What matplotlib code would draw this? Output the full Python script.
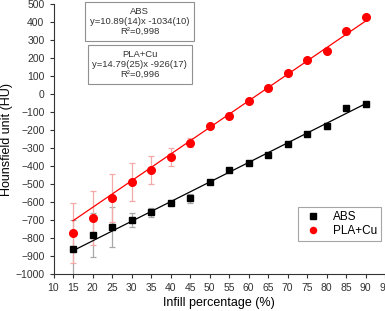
import numpy as np
import matplotlib.pyplot as plt

plt.rcParams['font.family'] = ['Liberation Sans', 'DejaVu Sans']

infill = [15, 20, 25, 30, 35, 40, 45, 50, 55, 60, 65, 70, 75, 80, 85, 90]

abs_hu = [-861, -783, -739, -700, -656, -605, -578, -489, -422, -384, -338, -278, -222, -177, -78, -56]
abs_err = [160, 120, 112, 40, 25, 8, 25, 10, 10, 10, 10, 10, 10, 15, 8, 8]

pla_hu = [-772, -689, -578, -489, -422, -350, -270, -178, -122, -39, 33, 117, 189, 239, 350, 428]
pla_err = [167, 150, 133, 103, 80, 50, 25, 10, 10, 10, 10, 10, 10, 12, 10, 12]

# linear fits reported in the boxes
abs_fit = (10.89, -1034)
pla_fit = (14.79, -926)

fig = plt.figure(figsize=(3.85, 3.11), dpi=100)
ax = fig.add_axes([0.139, 0.119, 0.861, 0.868])

xfit = np.array([15, 90])
ax.plot(xfit, abs_fit[0] * xfit + abs_fit[1], color='black', lw=0.9, zorder=2)
ax.plot(xfit, pla_fit[0] * xfit + pla_fit[1], color='red', lw=0.9, zorder=2)

ax.errorbar(infill, abs_hu, yerr=abs_err, fmt='none', ecolor='#a8a8a8',
            elinewidth=0.9, capsize=2.5, capthick=0.9, zorder=1)
ax.errorbar(infill, pla_hu, yerr=pla_err, fmt='none', ecolor='#f4a8a8',
            elinewidth=0.9, capsize=2.5, capthick=0.9, zorder=1)

ax.plot(infill, abs_hu, 's', color='black', ms=5, label='ABS', zorder=3)
ax.plot(infill, pla_hu, 'o', color='red', ms=5.5, label='PLA+Cu', zorder=3)

ax.set_xlim(10, 95)
ax.set_ylim(-1000, 500)
ax.set_xticks(np.arange(10, 96, 5))
ax.set_yticks(np.arange(-1000, 501, 100))
ax.tick_params(labelsize=7.5, direction='out', length=3, width=0.8, colors='#333333')
ax.spines['top'].set_visible(False)
ax.spines['right'].set_visible(False)
for s in ['left', 'bottom']:
    ax.spines[s].set_linewidth(0.8)
    ax.spines[s].set_color('#333333')
ax.set_xlabel('Infill percentage (%)', fontsize=9, labelpad=3)
ax.set_ylabel('Hounsfield unit (HU)', fontsize=9, labelpad=2)

box = dict(boxstyle='square,pad=0.5', fc='white', ec='#909090', lw=0.8)
ax.text(0.26, 0.935, 'ABS\ny=10.89(14)x -1034(10)\nR²=0,998', transform=ax.transAxes,
        ha='center', va='center', fontsize=6.8, linespacing=1.15, bbox=box, color='#333333')
ax.text(0.26, 0.776, 'PLA+Cu\ny=14.79(25)x -926(17)\nR²=0,996', transform=ax.transAxes,
        ha='center', va='center', fontsize=6.8, linespacing=1.15, bbox=box, color='#333333')

leg = ax.legend(loc='upper left', bbox_to_anchor=(0.737, 0.248), fontsize=8.5,
                frameon=True, fancybox=False, edgecolor='#909090', borderpad=0.35,
                handletextpad=0.8, handlelength=1.8, labelspacing=0.15, borderaxespad=0,
                markerscale=0.8)
leg.get_frame().set_linewidth(0.8)

fig.savefig('out.png', dpi=100)
